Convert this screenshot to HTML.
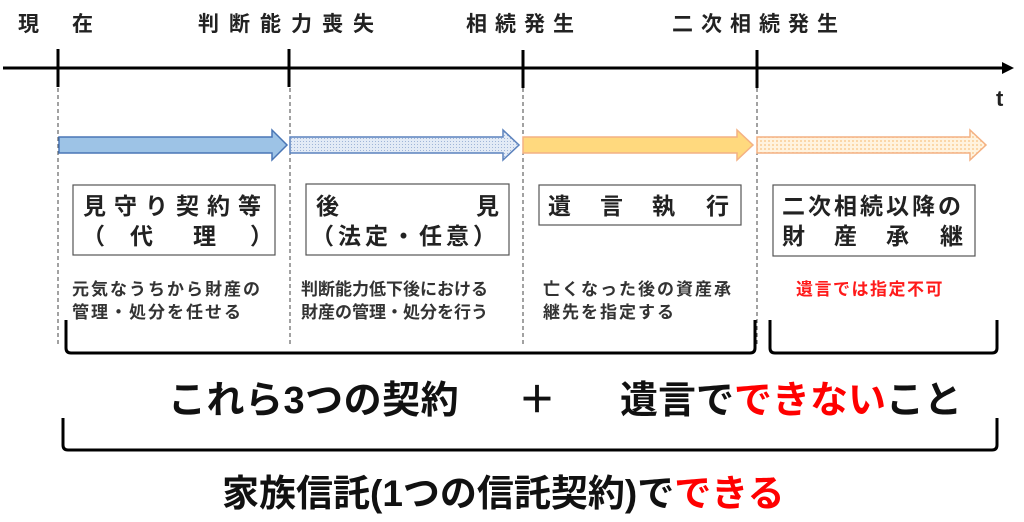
<!DOCTYPE html>
<html><head><meta charset="utf-8"><style>
body{margin:0;background:#fff;}
svg{display:block;font-family:"Liberation Sans","Noto Sans CJK JP",sans-serif;}
</style></head><body>
<svg width="1024" height="522" viewBox="0 0 1024 522" xmlns="http://www.w3.org/2000/svg">
<defs>
<pattern id="dotB" width="3" height="3" patternUnits="userSpaceOnUse"><rect width="3" height="3" fill="#e3ebf6"/><rect width="1" height="1" fill="#9fb5d8"/></pattern>
<pattern id="dotO" width="4" height="4" patternUnits="userSpaceOnUse"><rect width="4" height="4" fill="#fff3df"/><rect width="2" height="2" fill="#fbd7a8"/></pattern>
</defs>
<!-- top labels -->
<g font-size="21" font-weight="bold" fill="#222" letter-spacing="10">
<text x="18" y="31">現</text><text x="72" y="31">在</text>
<text x="198" y="31">判断能力喪失</text>
<text x="466" y="31" letter-spacing="8">相続発生</text>
<text x="672" y="31" letter-spacing="8">二次相続発生</text>
</g>
<text x="996" y="106" font-size="22" font-weight="bold" fill="#222">t</text>
<!-- axis -->
<line x1="3" y1="68" x2="1004" y2="68" stroke="#000" stroke-width="3"/>
<polygon points="1002,62 1014,68 1002,74" fill="#000"/>
<g stroke="#000" stroke-width="3">
<line x1="58" y1="49" x2="58" y2="87"/><line x1="289" y1="49" x2="289" y2="87"/>
<line x1="523" y1="50" x2="523" y2="88"/><line x1="757" y1="50" x2="757" y2="88"/>
</g>
<g stroke="#444" stroke-width="1" stroke-dasharray="4,3">
<line x1="58" y1="88" x2="58" y2="345"/><line x1="290" y1="88" x2="290" y2="345"/>
<line x1="523" y1="88" x2="523" y2="345"/><line x1="757" y1="88" x2="757" y2="345"/>
</g>
<!-- arrows -->
<polygon points="59,137 272,137 272,130 287,145 272,160 272,153 59,153" fill="#9dc3e6" stroke="#4a76b5" stroke-width="1.5"/>
<polygon points="290,137 503,137 503,130 519,145 503,160 503,153 290,153" fill="url(#dotB)" stroke="#5b82bd" stroke-width="1.5"/>
<polygon points="523,137 737,137 737,130 753,145 737,160 737,153 523,153" fill="#ffd97e" stroke="#f4b183" stroke-width="1.5"/>
<polygon points="757,137 970,137 970,130 986,145 970,160 970,153 757,153" fill="url(#dotO)" stroke="#f4b183" stroke-width="1.5"/>
<!-- boxes -->
<g fill="#fff" stroke="#555" stroke-width="1.2">
<rect x="73" y="185" width="202" height="70"/>
<rect x="306" y="184" width="203" height="71"/>
<rect x="539" y="185" width="202" height="40"/>
<rect x="773" y="185" width="202" height="71"/>
</g>
<g font-size="23" font-weight="bold" fill="#222">
<text x="83" y="214" letter-spacing="8">見守り契約等</text>
<text x="82" y="244">（</text><text x="130" y="244">代</text><text x="193" y="244">理</text><text x="250" y="244">）</text>
<text x="316" y="214">後</text><text x="476" y="214">見</text>
<text x="311" y="244" letter-spacing="4">（法定・任意）</text>
<text x="548" y="214">遺</text><text x="600" y="214">言</text><text x="652" y="214">執</text><text x="706" y="214">行</text>
<text x="782" y="214" letter-spacing="3">二次相続以降の</text>
<text x="782" y="244">財</text><text x="834" y="244">産</text><text x="886" y="244">承</text><text x="940" y="244">継</text>
</g>
<g font-size="17" font-weight="bold" fill="#333" letter-spacing="2">
<text x="72" y="295">元気なうちから財産の</text>
<text x="72" y="318">管理・処分を任せる</text>
<text x="301" y="295" letter-spacing="0">判断能力低下後における</text>
<text x="301" y="318" letter-spacing="0">財産の管理・処分を行う</text>
<text x="543" y="295">亡くなった後の資産承</text>
<text x="543" y="318">継先を指定する</text>
<text x="796" y="295" fill="#ff1a1a" letter-spacing="1.5">遺言では指定不可</text>
</g>
<!-- brackets -->
<g fill="none" stroke="#000" stroke-width="3">
<path d="M66,320 V348 Q66,353 71,353 H750 Q755,353 755,348 V320"/>
<path d="M770,320 V348 Q770,353 775,353 H992 Q997,353 997,348 V320"/>
<path d="M63,418 V445 Q63,450 68,450 H992 Q997,450 997,445 V418"/>
</g>
<g font-size="38" font-weight="bold" fill="#111">
<text x="168" y="413" letter-spacing="0.5">これら3つの契約</text>
<text x="518" y="413">＋</text>
<text x="620" y="413">遺言で<tspan fill="#ff0000">できない</tspan>こと</text>
<text x="222" y="506" font-size="37">家族信託(1つの信託契約)で<tspan fill="#ff0000">できる</tspan></text>
</g>
</svg>
</body></html>
